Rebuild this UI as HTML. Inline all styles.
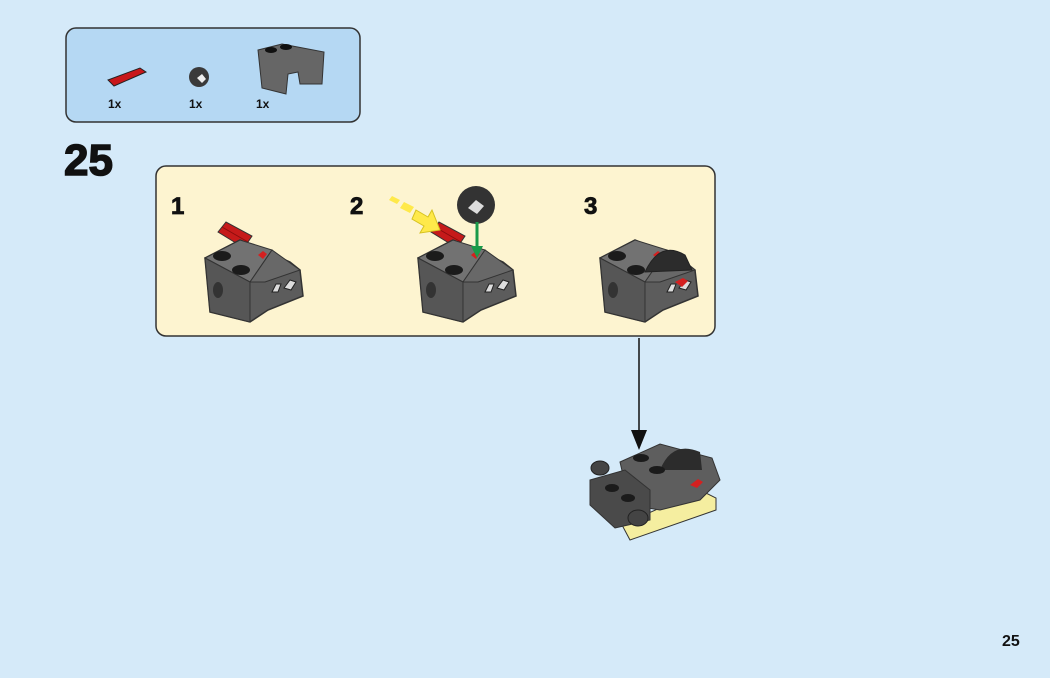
<!DOCTYPE html>
<html><head><style>
body{margin:0;width:1050px;height:673px;background:#d5eaf9;overflow:hidden;font-family:"Liberation Sans",Arial,sans-serif}
</style></head><body>
<svg width="1050" height="673" viewBox="0 0 1050 673" xmlns="http://www.w3.org/2000/svg">
<defs>
<g id="axle">
 <path d="M218 232 L226 222 L252 236 L244 248 Z" fill="#c61a1a" stroke="#333" stroke-width="1"/>
 <line x1="222" y1="227" x2="248" y2="242" stroke="#8a0d0d" stroke-width="1"/>
</g>
<g id="brick">
 <path d="M205 258 L240 240 L290 262 L300 270 L303 296 L268 310 L250 322 L210 312 Z" fill="#5c5c5c" stroke="#333" stroke-width="1.5"/>
 <path d="M205 258 L240 240 L272 250 L250 282 Z" fill="#727272" stroke="#333" stroke-width="1"/>
 <path d="M250 282 L272 250 L300 270 L265 282 Z" fill="#686868" stroke="#333" stroke-width="1"/>
 <path d="M205 258 L250 282 L250 322 L210 312 Z" fill="#565656" stroke="#333" stroke-width="1"/>
 <ellipse cx="222" cy="256" rx="9" ry="5" fill="#1b1b1b"/>
 <ellipse cx="241" cy="270" rx="9" ry="5" fill="#1b1b1b"/>
 <ellipse cx="218" cy="290" rx="5" ry="8" fill="#333"/>
 <path d="M258 255 l5 -4 l4 3 l-4 5 z" fill="#d42020"/>
 <path d="M272 292 l4 -8 l5 0 l-3 8 z M284 288 l6 -8 l6 2 l-5 8 z" fill="#ddd" stroke="#222" stroke-width="1"/>
</g>
</defs>
<rect x="66" y="28" width="294" height="94" rx="10" fill="#b5d8f3" stroke="#333" stroke-width="1.5"/>
<path d="M108 80 L140 68 L146 72 L114 86 Z" fill="#c8171a" stroke="#222" stroke-width="1"/>
<circle cx="199" cy="77" r="10" fill="#3a3a3a"/>
<path d="M197 78 l5 -4 l4 5 l-4 4 z" fill="#eee"/>
<path d="M258 50 L282 44 L324 52 L322 84 L300 84 L298 72 L288 74 L286 94 L262 88 Z" fill="#666" stroke="#333" stroke-width="1"/>
<ellipse cx="271" cy="50" rx="6" ry="3" fill="#111"/><ellipse cx="286" cy="47" rx="6" ry="3" fill="#111"/>
<text x="108" y="108" font-size="12" font-weight="bold" fill="#111">1x</text>
<text x="189" y="108" font-size="12" font-weight="bold" fill="#111">1x</text>
<text x="256" y="108" font-size="12" font-weight="bold" fill="#111">1x</text>
<text x="64" y="175" font-size="44" font-weight="bold" fill="#111" stroke="#111" stroke-width="1.5">25</text>
<rect x="156" y="166" width="559" height="170" rx="10" fill="#fdf4d0" stroke="#333" stroke-width="1.5"/>
<text x="171" y="214" font-size="24" font-weight="bold" fill="#111" stroke="#111" stroke-width="0.8">1</text>
<text x="350" y="214" font-size="24" font-weight="bold" fill="#111" stroke="#111" stroke-width="0.8">2</text>
<text x="584" y="214" font-size="24" font-weight="bold" fill="#111" stroke="#111" stroke-width="0.8">3</text>
<use href="#axle"/>
<use href="#brick"/>
<use href="#axle" transform="translate(213,0)"/>
<use href="#brick" transform="translate(213,0)"/>
<use href="#brick" transform="translate(395,0)"/>
<path d="M645 272 Q660 240 685 255 L692 270 Z" fill="#2c2c2c" stroke="#222"/>
<path d="M675 282 l8 -4 l5 3 l-6 6 z" fill="#d42020"/>
<circle cx="476" cy="205" r="19" fill="#333"/>
<path d="M468 208 l8 -8 l8 6 l-7 8 z" fill="#ddd"/>
<line x1="477" y1="222" x2="477" y2="250" stroke="#1a9a4a" stroke-width="3"/>
<path d="M471 246 L483 246 L477 258 Z" fill="#1a9a4a"/>
<path d="M392 196 l8 4 l-3 4 l-8 -4 z M404 202 l10 5 l-4 6 l-10 -5 z" fill="#ffe94a"/>
<path d="M416 210 L428 217 L432 210 L440 230 L420 233 L424 226 L412 219 Z" fill="#ffe94a" stroke="#d6c220" stroke-width="1"/>
<line x1="639" y1="338" x2="639" y2="432" stroke="#111" stroke-width="1.5"/>
<path d="M631 430 L647 430 L639 450 Z" fill="#111"/>
<path d="M622 525 L700 490 L716 498 L716 510 L630 540 Z" fill="#f5eea0" stroke="#333"/>
<path d="M620 462 L660 444 L712 458 L720 480 L700 500 L660 510 L630 505 Z" fill="#5e5e5e" stroke="#333"/>
<path d="M660 470 Q672 440 700 452 L702 470 Z" fill="#2c2c2c"/>
<ellipse cx="641" cy="458" rx="8" ry="4" fill="#1b1b1b"/><ellipse cx="657" cy="470" rx="8" ry="4" fill="#1b1b1b"/>
<path d="M690 485 l8 -6 l5 3 l-6 6 z" fill="#d42020"/>
<path d="M590 480 L625 470 L650 490 L650 520 L615 528 L590 505 Z" fill="#4a4a4a" stroke="#333"/>
<ellipse cx="600" cy="468" rx="9" ry="7" fill="#444" stroke="#222"/>
<ellipse cx="638" cy="518" rx="10" ry="8" fill="#444" stroke="#222"/>
<ellipse cx="612" cy="488" rx="7" ry="4" fill="#1b1b1b"/><ellipse cx="628" cy="498" rx="7" ry="4" fill="#1b1b1b"/>
<text x="1002" y="646" font-size="16" font-weight="bold" fill="#111">25</text>
</svg>
</body></html>
